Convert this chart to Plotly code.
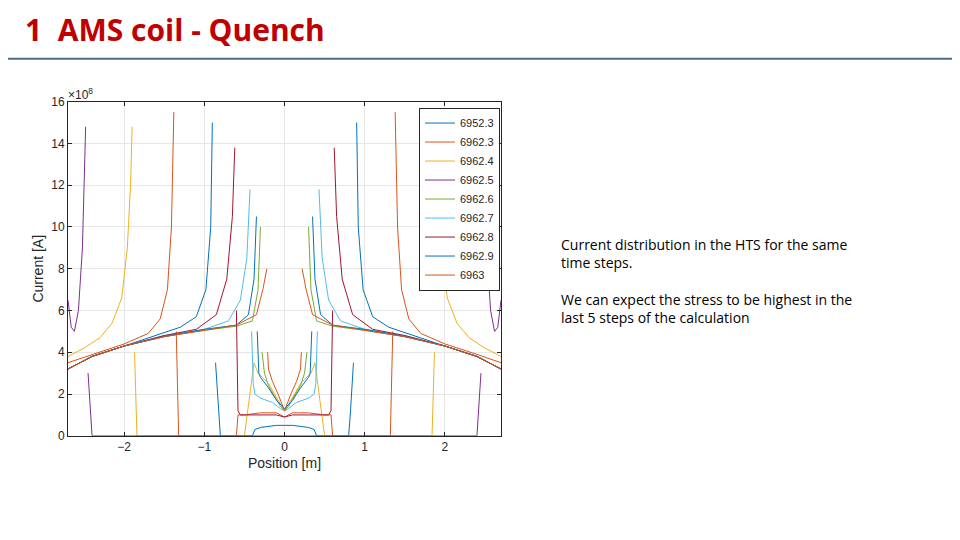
import plotly.graph_objects as go

# time steps in legend
steps = ['6952.3', '6962.3', '6962.4', '6962.5', '6962.6', '6962.7', '6962.8', '6962.9', '6963']
colors = ['#0072BD', '#D95319', '#EDB120', '#7E2F8E', '#77AC30', '#4DBEEE', '#A2142F', '#0072BD', '#D95319']

# left half of each curve (position [m], current [1e8 A]); outer branch up to the spike, then inner branch to x=0
outer_x = [
    [-2.7, -2.4, -2.0, -1.6, -1.3, -1.1, -0.98, -0.92, -0.9],
    [-2.7, -2.4, -2.0, -1.7, -1.55, -1.46, -1.41, -1.38],
    [-2.7, -2.5, -2.3, -2.15, -2.03, -1.96, -1.92, -1.9],
    [-2.7, -2.66, -2.62, -2.57, -2.52, -2.48],
    [-2.7, -2.4, -2.0, -1.5, -1.0, -0.6, -0.4, -0.33, -0.3],
    [-2.7, -2.4, -2.0, -1.5, -1.0, -0.7, -0.55, -0.47, -0.43],
    [-2.7, -2.4, -2.0, -1.5, -1.1, -0.85, -0.72, -0.65, -0.62],
    [-2.7, -2.4, -2.0, -1.5, -1.0, -0.6, -0.45, -0.38, -0.35],
    [-2.7, -2.4, -2.0, -1.5, -1.0, -0.6, -0.35, -0.27, -0.22],
]
outer_y = [
    [3.2, 3.8, 4.3, 4.8, 5.2, 5.7, 7.0, 10.0, 15.0],
    [3.5, 3.9, 4.4, 4.9, 5.6, 7.0, 10.0, 15.5],
    [3.8, 4.2, 4.7, 5.4, 6.6, 9.0, 12.0, 14.8],
    [6.5, 5.2, 5.0, 6.0, 9.0, 14.8],
    [3.2, 3.8, 4.3, 4.75, 5.05, 5.25, 5.5, 7.0, 10.0],
    [3.2, 3.8, 4.3, 4.8, 5.1, 5.5, 6.5, 8.5, 11.8],
    [3.2, 3.8, 4.3, 4.8, 5.1, 5.8, 7.5, 10.5, 13.8],
    [3.2, 3.8, 4.3, 4.75, 5.1, 5.3, 5.8, 7.5, 10.5],
    [3.2, 3.8, 4.3, 4.75, 5.05, 5.3, 5.8, 7.0, 8.0],
]
inner_x = [
    [-0.86, -0.82, -0.8, -0.4, -0.37, -0.3, -0.1, 0.0],
    [-1.35, -1.32, -0.6, -0.58, -0.5, -0.3, -0.1, 0.0],
    [-1.87, -1.84, -0.9, -0.5, -0.38, -0.33, -0.2, -0.05, 0.0],
    [-2.45, -2.4, -1.0, -0.5, 0.0],
    [-0.28, -0.25, -0.2, -0.12, -0.05, 0.0],
    [-0.41, -0.39, -0.37, -0.3, -0.15, -0.05, 0.0],
    [-0.6, -0.58, -0.55, -0.5, -0.3, -0.1, 0.0],
    [-0.34, -0.32, -0.3, -0.2, -0.1, 0.0],
    [-0.21, -0.2, -0.15, -0.08, 0.0],
]
inner_y = [
    [3.5, 1.0, 0.0, 0.0, 0.3, 0.4, 0.5, 0.5],
    [5.0, 0.0, 0.0, 1.0, 1.0, 1.1, 1.1, 0.9],
    [4.0, 0.0, 0.0, 0.0, 3.5, 3.0, 2.5, 1.5, 1.2],
    [3.0, 0.0, 0.0, 0.0, 0.0],
    [4.0, 3.0, 2.4, 1.9, 1.4, 1.2],
    [5.0, 2.5, 2.0, 1.8, 1.6, 1.3, 1.2],
    [6.0, 1.2, 1.0, 1.0, 1.0, 1.0, 0.9],
    [5.0, 3.0, 2.8, 2.3, 1.7, 1.3],
    [4.0, 3.2, 2.6, 2.0, 1.2],
]


def full_curve(ox, oy, ix, iy):
    # the distribution is symmetric about x=0, so the right half mirrors the left
    xs = ox + [None] + ix + [-v for v in ix[-2::-1]] + [None] + [-v for v in ox[::-1]]
    ys = oy + [None] + iy + iy[-2::-1] + [None] + oy[::-1]
    return xs, ys


fig = go.Figure()
for i, name in enumerate(steps):
    xs, ys = full_curve(outer_x[i], outer_y[i], inner_x[i], inner_y[i])
    fig.add_trace(go.Scatter(x=xs, y=ys, mode='lines', name=name,
                             line=dict(color=colors[i], width=1)))

axis_style = dict(showline=True, linecolor='#262626', mirror='ticks', ticks='inside',
                  ticklen=4, tickcolor='#262626', showgrid=True, gridcolor='#E6E6E6',
                  zeroline=False, tickfont=dict(family='Arial', size=12, color='#262626'))
fig.update_xaxes(range=[-2.7, 2.7], tickvals=[-2, -1, 0, 1, 2],
                 title=dict(text='Position [m]', font=dict(family='Arial', size=14, color='#262626'), standoff=4),
                 **axis_style)
fig.update_yaxes(range=[0, 16], tickvals=list(range(0, 17, 2)),
                 title=dict(text='Current [A]', font=dict(family='Arial', size=14, color='#262626'), standoff=4),
                 **axis_style)

fig.update_layout(
    width=960, height=540,
    paper_bgcolor='white', plot_bgcolor='white',
    margin=dict(l=0, r=0, t=0, b=0),
    xaxis=dict(domain=[60 / 960, 493 / 960]),
    yaxis=dict(domain=[1 - 432 / 540, 1 - 89 / 540]),
    showlegend=True,
    legend=dict(x=492 / 960, y=1 - 95 / 540, xanchor='right', yanchor='top', bgcolor='white',
                bordercolor='#262626', borderwidth=1, tracegroupgap=0, itemwidth=30,
                font=dict(family='Arial', size=11, color='#262626')),
    shapes=[dict(type='line', xref='paper', yref='paper', x0=0, x1=1,
                 y0=1 - 45 / 540, y1=1 - 45 / 540, line=dict(color='#4F6D8A', width=2))],
    annotations=[
        dict(text='<b>1  AMS coil - Quench</b>', xref='paper', yref='paper', x=15 / 960, y=1 - 15 / 540,
             xanchor='left', yanchor='middle', showarrow=False,
             font=dict(family='Open Sans', size=30, color='#C00000')),
        dict(text='×10<sup>8</sup>', xref='paper', yref='paper', x=58 / 960, y=1 - 81 / 540,
             xanchor='left', yanchor='middle', showarrow=False,
             font=dict(family='Arial', size=12, color='#262626')),
        dict(text='Current distribution in the HTS for the same<br>time steps.<br><br>'
                  'We can expect the stress to be highest in the<br>last 5 steps of the calculation',
             xref='paper', yref='paper', x=551 / 960, y=1 - 224 / 540, align='left',
             xanchor='left', yanchor='top', showarrow=False,
             font=dict(family='Open Sans', size=14, color='#000000')),
    ],
)

fig.write_html('out.html')
